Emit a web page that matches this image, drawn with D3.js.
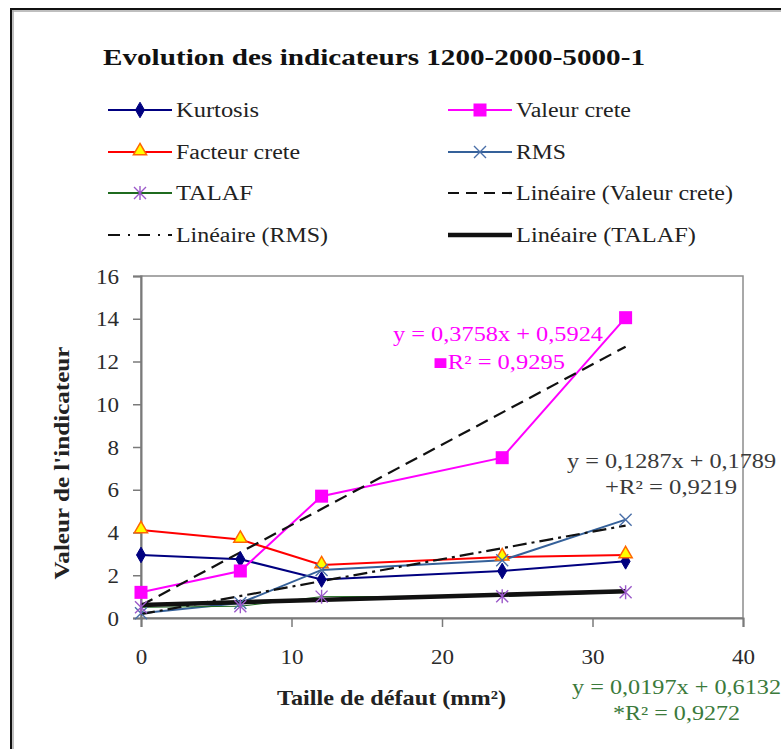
<!DOCTYPE html>
<html>
<head>
<meta charset="utf-8">
<script src="https://cdn.jsdelivr.net/npm/d3@7"></script>
<style>
  html, body { margin: 0; padding: 0; background: #fff; }
  text { font-family: "Liberation Serif", "Times New Roman", Times, "DejaVu Serif Condensed", "DejaVu Serif", serif; }
</style>
</head>
<body>
<svg id="chart" width="781" height="749"></svg>
<script>
// ---- data ----
const defectSizes = [0, 6.6, 12, 24, 32.2];
const kurtosis     = [2.95, 2.75, 1.8, 2.2, 2.65];
const valeurCrete  = [1.2, 2.2, 5.7, 7.5, 14.05];
const facteurCrete = [4.12, 3.67, 2.48, 2.85, 2.95];
const rms          = [0.22, 0.7, 2.25, 2.7, 4.6];
const talaf        = [0.5, 0.55, 1.0, 1.02, 1.2];
const xTicks = [0, 10, 20, 30, 40];
const yTicks = [0, 2, 4, 6, 8, 10, 12, 14, 16];
const trendValeur = [0.3758, 0.5924, 0.9295]; // slope, intercept, R²
const trendRms    = [0.1287, 0.1789, 0.9219];
const trendTalaf  = [0.0197, 0.6132, 0.9272];
const legendLabels = ["Kurtosis", "Valeur crete", "Facteur crete", "RMS", "TALAF",
  "Linéaire (Valeur crete)", "Linéaire (RMS)", "Linéaire (TALAF)"];
const titleText = "Evolution des indicateurs 1200-2000-5000-1";

// ---- layout (pixel widths of text boxes as seen in the reference) ----
const legendTextWidths = [83, 115, 124, 50, 77, 217, 152, 180];

const svg = d3.select("#chart");
const fmt = v => String(v).replace(".", ",");

// frame
svg.append("line").attr("x1", 12).attr("x2", 781).attr("y1", 11).attr("y2", 11).attr("stroke", "#aaa").attr("stroke-width", 1.5);
svg.append("line").attr("x1", 13).attr("x2", 13).attr("y1", 10).attr("y2", 749).attr("stroke", "#aaa").attr("stroke-width", 1.5);
svg.append("line").attr("x1", 10).attr("x2", 781).attr("y1", 9).attr("y2", 9).attr("stroke", "#111").attr("stroke-width", 2);
svg.append("line").attr("x1", 11).attr("x2", 11).attr("y1", 8).attr("y2", 749).attr("stroke", "#111").attr("stroke-width", 2);

// scales
const x = d3.scaleLinear().domain([0, 40]).range([141, 743]);
const y = d3.scaleLinear().domain([0, 16]).range([618, 276]);

// title
svg.append("text").attr("x", 103).attr("y", 65).attr("font-size", 23).attr("font-weight", "bold")
  .attr("fill", "#111").attr("textLength", 542).attr("lengthAdjust", "spacingAndGlyphs").text(titleText);

// plot area border
svg.append("rect").attr("x", x(0)).attr("y", y(16)).attr("width", x(40) - x(0)).attr("height", y(0) - y(16))
  .attr("fill", "none").attr("stroke", "#8c8c8c").attr("stroke-width", 1.5);

// axes
const gx = svg.append("g").attr("transform", `translate(0,${y(0)})`)
  .call(d3.axisBottom(x).tickValues(xTicks).tickSize(9).tickPadding(23).tickFormat(d => d));
const gy = svg.append("g").attr("transform", `translate(${x(0)},0)`)
  .call(d3.axisLeft(y).tickValues(yTicks).tickSize(8).tickPadding(14).tickFormat(d => d));
[gx, gy].forEach(g => {
  g.attr("font-family", null);
  g.select(".domain").attr("stroke", "#7a7a7a").attr("stroke-width", 2);
  g.selectAll(".tick line").attr("stroke", "#7a7a7a").attr("stroke-width", 1.5);
  g.selectAll(".tick text").attr("font-size", 20).attr("fill", "#2a2a2a");
});
gy.selectAll(".tick text").attr("dy", "0.36em");
gy.selectAll(".tick text").each(function(d) {
  d3.select(this).attr("textLength", String(d).length * 11.5).attr("lengthAdjust", "spacingAndGlyphs");
});
gx.selectAll(".tick text").each(function(d) {
  d3.select(this).attr("textLength", String(d).length * 11.5).attr("lengthAdjust", "spacingAndGlyphs");
});

// axis titles
svg.append("text").attr("transform", "translate(69,463) rotate(-90)").attr("text-anchor", "middle")
  .attr("font-size", 21).attr("font-weight", "bold").attr("fill", "#222")
  .attr("textLength", 233).attr("lengthAdjust", "spacingAndGlyphs").text("Valeur de l'indicateur");
svg.append("text").attr("x", 277).attr("y", 705).attr("font-size", 21).attr("font-weight", "bold").attr("fill", "#222")
  .attr("textLength", 229).attr("lengthAdjust", "spacingAndGlyphs").text("Taille de défaut (mm²)");

// series
const series = [
  {name: "Kurtosis", vals: kurtosis, color: "#000080", marker: "diamond", w: 2},
  {name: "Valeur crete", vals: valeurCrete, color: "#ff00ff", marker: "square", w: 2},
  {name: "Facteur crete", vals: facteurCrete, color: "#ff0000", marker: "triangle", w: 2},
  {name: "RMS", vals: rms, color: "#35619a", marker: "x", w: 2},
  {name: "TALAF", vals: talaf, color: "#1f6b1f", marker: "star", w: 1}
];
const line = d3.line().x(d => x(d[0])).y(d => y(d[1]));
const plot = svg.append("g");
series.forEach(s => {
  plot.append("path").datum(defectSizes.map((d, i) => [d, s.vals[i]]))
    .attr("d", line).attr("fill", "none").attr("stroke", s.color).attr("stroke-width", s.w);
});

// trend lines
const trends = [
  {p: trendValeur, dash: "13,7", w: 2.2},
  {p: trendRms, dash: "14,5,3,5", w: 2.2},
  {p: trendTalaf, dash: null, w: 4.5}
];
const xMin = d3.min(defectSizes), xMax = d3.max(defectSizes);
trends.forEach(t => {
  plot.append("path").datum([[xMin, t.p[0] * xMin + t.p[1]], [xMax, t.p[0] * xMax + t.p[1]]])
    .attr("d", line).attr("fill", "none").attr("stroke", "#111").attr("stroke-width", t.w)
    .attr("stroke-dasharray", t.dash);
});

// markers
function drawMarker(g, type, cx, cy) {
  if (type === "diamond") {
    g.append("path").attr("d", d3.symbol(d3.symbolDiamond, 70)()).attr("transform", `translate(${cx},${cy})`)
      .attr("fill", "#000080").attr("stroke", "#000080");
  } else if (type === "square") {
    g.append("rect").attr("x", cx - 6.5).attr("y", cy - 6.5).attr("width", 13).attr("height", 13).attr("fill", "#ff00ff");
  } else if (type === "triangle") {
    g.append("path").attr("d", d3.symbol(d3.symbolTriangle, 75)()).attr("transform", `translate(${cx},${cy - 1})`)
      .attr("fill", "#ffff00").attr("stroke", "#ff6600").attr("stroke-width", 1.5);
  } else if (type === "x") {
    g.append("path").attr("d", `M${cx - 6},${cy - 6}L${cx + 6},${cy + 6}M${cx - 6},${cy + 6}L${cx + 6},${cy - 6}`)
      .attr("stroke", "#4a6fa8").attr("stroke-width", 1.4);
  } else if (type === "star") {
    g.append("path").attr("d", `M${cx - 6},${cy - 6}L${cx + 6},${cy + 6}M${cx - 6},${cy + 6}L${cx + 6},${cy - 6}M${cx},${cy - 7}L${cx},${cy + 7}`)
      .attr("stroke", "#9b59c9").attr("stroke-width", 1.4);
  }
}
series.forEach(s => {
  defectSizes.forEach((d, i) => drawMarker(plot, s.marker, x(d), y(s.vals[i])));
});

// trend equations
function eqLabel(p, lx1, ly1, w1, lx2, ly2, w2, color, sym) {
  svg.append("text").attr("x", lx1).attr("y", ly1).attr("dy", "0.36em").attr("font-size", 20).attr("fill", color)
    .attr("textLength", w1).attr("lengthAdjust", "spacingAndGlyphs")
    .text(`y = ${fmt(p[0])}x + ${fmt(p[1])}`);
  svg.append("text").attr("x", lx2).attr("y", ly2).attr("dy", "0.36em").attr("font-size", 20).attr("fill", color)
    .attr("textLength", w2).attr("lengthAdjust", "spacingAndGlyphs")
    .text(`${sym}R² = ${fmt(p[2])}`);
}
eqLabel(trendValeur, 393, 334, 210, 433, 362, 132, "#ff00ff", "■");
eqLabel(trendRms, 567, 461, 209, 605, 487, 132, "#3a3a3a", "+");
eqLabel(trendTalaf, 572, 687, 209, 613, 713, 127, "#3b7a3b", "*");

// legend
const legendItems = [
  {color: "#000080", marker: "diamond", w: 2},
  {color: "#ff00ff", marker: "square", w: 2},
  {color: "#ff0000", marker: "triangle", w: 2},
  {color: "#35619a", marker: "x", w: 2},
  {color: "#1f6b1f", marker: "star", w: 2},
  {color: "#111", dash: "11,7", w: 2.2},
  {color: "#111", dash: "12,8,2,8", w: 2.2},
  {color: "#111", w: 4.5}
];
const leg = svg.append("g");
legendItems.forEach((it, i) => {
  const col = i % 2, row = Math.floor(i / 2);
  const lx = col === 0 ? 108 : 448;
  const ly = [110, 152, 193, 235][row];
  leg.append("line").attr("x1", lx).attr("x2", lx + 64).attr("y1", ly).attr("y2", ly)
    .attr("stroke", it.color).attr("stroke-width", it.w).attr("stroke-dasharray", it.dash || null);
  if (it.marker) drawMarker(leg, it.marker, lx + 32, ly);
  leg.append("text").attr("x", lx + 68).attr("y", ly).attr("dy", "0.36em").attr("font-size", 20)
    .attr("fill", "#222").attr("textLength", legendTextWidths[i]).attr("lengthAdjust", "spacingAndGlyphs")
    .text(legendLabels[i]);
});
</script>
</body>
</html>
